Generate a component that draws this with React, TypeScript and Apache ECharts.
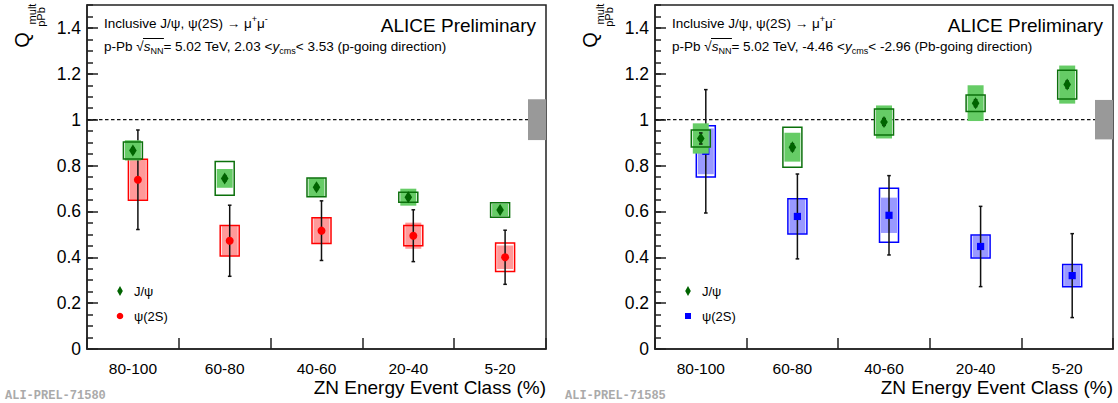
import React, { useEffect, useRef } from 'react';
import * as echarts from 'echarts';

// ---------- data ----------
const categories = ['80-100', '60-80', '40-60', '20-40', '5-20'];

// p-going direction (2.03 < y_cms < 3.53)
const jpsiFwd = [0.866, 0.744, 0.705, 0.662, 0.606];
const jpsiFwdStat = [0.01, 0.012, 0.01, 0.008, 0.008];
const jpsiFwdSysUncorr = [0.037, 0.074, 0.041, 0.022, 0.032];
const jpsiFwdSysCorr = [0.044, 0.041, 0.04, 0.037, 0.028];

const psi2sFwd = [0.738, 0.472, 0.516, 0.494, 0.4];
const psi2sFwdStat = [0.217, 0.155, 0.13, 0.113, 0.118];
const psi2sFwdSysUncorr = [0.089, 0.066, 0.056, 0.044, 0.062];
const psi2sFwdSysCorr = [0.087, 0.064, 0.058, 0.057, 0.051];

// Pb-going direction (-4.46 < y_cms < -2.96)
const jpsiBwd = [0.918, 0.88, 0.99, 1.072, 1.153];
const jpsiBwdStat = [0.024, 0.015, 0.015, 0.015, 0.015];
const jpsiBwdSysUncorr = [0.037, 0.087, 0.057, 0.036, 0.063];
const jpsiBwdSysCorr = [0.066, 0.063, 0.072, 0.078, 0.083];

const psi2sBwd = [0.862, 0.578, 0.583, 0.447, 0.32];
const psi2sBwdStat = [0.269, 0.185, 0.173, 0.175, 0.183];
const psi2sBwdSysUncorr = [0.112, 0.077, 0.118, 0.05, 0.049];
const psi2sBwdSysCorr = [0.1, 0.075, 0.077, 0.047, 0.045];

// global (correlated) uncertainty around unity, per panel
const globalSyst = [0.089, 0.086];
const unity = 1;

const yMin = 0;
const yMax = 1.5;
const yMajor = 0.2;
const yMinor = 0.05;

// ---------- style ----------
const FONT = '"Liberation Sans", Arial, Helvetica, sans-serif';
const FRAME = '#222';
const HFS = 13.5; // header font size
const SUBFS = 9;

const GRIDS = [
  { left: 87, top: 5, width: 459, height: 344 },
  { left: 655, top: 5, width: 458, height: 344 },
];

function toData(v: number[], st: number[], un: number[], co: number[]) {
  return v.map((y, i) => [i, y, st[i], un[i], co[i]]);
}

function makeRender(kind: string, fill: string, stroke: string, markerColor: string, dx: number) {
  return (params: any, api: any) => {
    const i = api.value(0);
    const v = api.value(1);
    const st = api.value(2);
    const un = api.value(3);
    const co = api.value(4);
    const c = api.coord([i, v]);
    const x = c[0] + dx;
    const y = c[1];
    const yc1 = api.coord([i, v + co])[1];
    const yc2 = api.coord([i, v - co])[1];
    const yu1 = api.coord([i, v + un])[1];
    const yu2 = api.coord([i, v - un])[1];
    const ys1 = api.coord([i, v + st])[1];
    const ys2 = api.coord([i, v - st])[1];
    let marker: any;
    if (kind === 'diamond') {
      marker = {
        type: 'polygon',
        shape: { points: [[x, y - 6], [x + 3.8, y], [x, y + 6], [x - 3.8, y]] },
        style: { fill: markerColor },
      };
    } else if (kind === 'circle') {
      marker = { type: 'circle', shape: { cx: x, cy: y, r: 4 }, style: { fill: markerColor } };
    } else {
      marker = { type: 'rect', shape: { x: x - 3.6, y: y - 3.6, width: 7.2, height: 7.2 }, style: { fill: markerColor } };
    }
    return {
      type: 'group',
      children: [
        { type: 'rect', shape: { x: x - 8, y: yc1, width: 16, height: yc2 - yc1 }, style: { fill } },
        { type: 'rect', shape: { x: x - 9.5, y: yu1, width: 19, height: yu2 - yu1 }, style: { fill: 'none', stroke, lineWidth: 1.5 } },
        { type: 'line', shape: { x1: x, y1: ys1, x2: x, y2: ys2 }, style: { stroke: '#111', lineWidth: 1.5 } },
        { type: 'line', shape: { x1: x - 1.8, y1: ys1, x2: x + 1.8, y2: ys1 }, style: { stroke: '#111', lineWidth: 1.5 } },
        { type: 'line', shape: { x1: x - 1.8, y1: ys2, x2: x + 1.8, y2: ys2 }, style: { stroke: '#111', lineWidth: 1.5 } },
        marker,
      ],
    };
  };
}

function unityLineRender(params: any, api: any) {
  const cs = params.coordSys;
  const y = api.coord([0, api.value(1)])[1];
  return {
    type: 'line',
    shape: { x1: cs.x, y1: y, x2: cs.x + cs.width, y2: y },
    style: { stroke: '#111', lineWidth: 1.3, lineDash: [3.5, 2.5] },
  };
}

function globalBoxRender(params: any, api: any) {
  const cs = params.coordSys;
  const g = api.value(2);
  const c = api.value(1);
  const y1 = api.coord([0, c + g])[1];
  const y2 = api.coord([0, c - g])[1];
  return {
    type: 'rect',
    shape: { x: cs.x + cs.width - 18, y: y1, width: 18, height: y2 - y1 },
    style: { fill: '#999999' },
  };
}

function xAxisFor(gridIndex: number) {
  return {
    type: 'category',
    gridIndex,
    data: categories,
    boundaryGap: true,
    axisLine: { show: true, lineStyle: { color: FRAME, width: 1.5 } },
    axisTick: { show: true, inside: true, length: 11, interval: 0, lineStyle: { color: FRAME, width: 1.5 } },
    axisLabel: { show: true, interval: 0, color: '#000', fontFamily: FONT, fontSize: 15.5, margin: 11 },
    splitLine: { show: false },
  };
}

function yAxesFor(gridIndex: number) {
  return [
    {
      type: 'value',
      gridIndex,
      position: 'left',
      min: yMin,
      max: yMax,
      interval: yMajor,
      axisLine: { show: true, lineStyle: { color: FRAME, width: 1.5 } },
      axisTick: { show: true, inside: true, length: 11, lineStyle: { color: FRAME, width: 1.5 } },
      axisLabel: { show: true, color: '#000', fontFamily: FONT, fontSize: 17.5, margin: 6, showMaxLabel: false },
      splitLine: { show: false },
    },
    {
      type: 'value',
      gridIndex,
      position: 'left',
      min: yMin,
      max: yMax,
      interval: yMinor,
      axisLine: { show: false },
      axisTick: { show: true, inside: true, length: 6, lineStyle: { color: FRAME, width: 1.5 } },
      axisLabel: { show: false },
      splitLine: { show: false },
    },
  ];
}

function panelSeries(p: number, jv: number[], js: number[], ju: number[], jc: number[],
  pv: number[], ps: number[], pu: number[], pc: number[], psiFill: string, psiStroke: string, psiMarker: string, psiKind: string) {
  const xi = p;
  const yi = p * 2;
  return [
    {
      type: 'custom', xAxisIndex: xi, yAxisIndex: yi, silent: true, z: 1,
      data: [[0, unity]], renderItem: unityLineRender,
    },
    {
      type: 'custom', xAxisIndex: xi, yAxisIndex: yi, silent: true, z: 2,
      data: [[0, unity, globalSyst[p]]], renderItem: globalBoxRender,
    },
    {
      type: 'custom', name: 'ψ(2S)', xAxisIndex: xi, yAxisIndex: yi, silent: true, z: 3,
      data: toData(pv, ps, pu, pc), renderItem: makeRender(psiKind, psiFill, psiStroke, psiMarker, 5),
    },
    {
      type: 'custom', name: 'J/ψ', xAxisIndex: xi, yAxisIndex: yi, silent: true, z: 4,
      data: toData(jv, js, ju, jc), renderItem: makeRender('diamond', '#66cc66', '#0b700b', '#006400', 0),
    },
  ];
}

const panelTexts = [
  { range: '2.03 <', range2: '< 3.53 (p-going direction)', tag: 'ALI-PREL-71580', psiMarker: 'circle', psiColor: '#ff0000' },
  { range: '-4.46 <', range2: '< -2.96 (Pb-going direction)', tag: 'ALI-PREL-71585', psiMarker: 'square', psiColor: '#0000ff' },
];

function panelGraphics(p: number) {
  const g = GRIDS[p];
  const gx = g.left;
  const gr = g.left + g.width;
  const t = panelTexts[p];
  const els: any[] = [];
  const tx = gx + 17;
  // header line 1
  els.push({
    type: 'text', x: tx, y: 23,
    style: {
      text: '{t|Inclusive J/ψ, ψ(2S) → μ}{sup|+}{t|μ}{sup|-}',
      verticalAlign: 'middle', align: 'left',
      rich: {
        t: { fontFamily: FONT, fontSize: HFS, fill: '#000', lineHeight: 18, verticalAlign: 'middle' },
        sup: { fontFamily: FONT, fontSize: SUBFS, fill: '#000', lineHeight: 9, verticalAlign: 'top' },
      },
    },
  });
  // ALICE Preliminary
  els.push({
    type: 'text', x: gr - 10, y: 25,
    style: { text: 'ALICE Preliminary', fontFamily: FONT, fontSize: 19, fill: '#000', align: 'right', verticalAlign: 'middle' },
  });
  // header line 2
  els.push({
    type: 'text', x: tx, y: 46,
    style: {
      text: '{t|p-Pb √}{i|s}{sub|NN}{t|= 5.02 TeV, ' + t.range + '}{i|y}{sub|cms}{t|' + t.range2 + '}',
      verticalAlign: 'middle', align: 'left',
      rich: {
        t: { fontFamily: FONT, fontSize: HFS, fill: '#000', lineHeight: 19, verticalAlign: 'middle' },
        i: { fontFamily: FONT, fontSize: HFS, fontStyle: 'italic', fill: '#000', lineHeight: 19, verticalAlign: 'middle' },
        sub: { fontFamily: FONT, fontSize: SUBFS, fill: '#000', lineHeight: 9, verticalAlign: 'bottom' },
      },
    },
  });
  // sqrt overline
  const ox1 = tx + HFS * (2.39 + 0.5);
  const ox2 = tx + HFS * (2.39 + 0.549 + 0.5) + SUBFS * 1.444 + 0.5;
  els.push({
    type: 'line', shape: { x1: ox1, y1: 38.5, x2: ox2, y2: 38.5 },
    style: { stroke: '#000', lineWidth: 1 },
  });
  // legend
  const lx = gx + 33;
  els.push({ type: 'polygon', shape: { points: [[lx, 286], [lx + 2.8, 291], [lx, 296], [lx - 2.8, 291]] }, style: { fill: '#006400' } });
  els.push({ type: 'text', x: gx + 47, y: 291, style: { text: 'J/ψ', fontFamily: FONT, fontSize: 13, fill: '#000', verticalAlign: 'middle' } });
  if (t.psiMarker === 'circle') {
    els.push({ type: 'circle', shape: { cx: lx, cy: 316, r: 3.3 }, style: { fill: t.psiColor } });
  } else {
    els.push({ type: 'rect', shape: { x: lx - 3, y: 313, width: 6, height: 6 }, style: { fill: t.psiColor } });
  }
  els.push({ type: 'text', x: gx + 47, y: 316, style: { text: 'ψ(2S)', fontFamily: FONT, fontSize: 13, fill: '#000', verticalAlign: 'middle' } });
  // x axis title
  els.push({
    type: 'text', x: gr, y: 387,
    style: { text: 'ZN Energy Event Class (%)', fontFamily: FONT, fontSize: 19, fill: '#000', align: 'right', verticalAlign: 'middle' },
  });
  // y axis title (rotated)
  els.push({
    type: 'text', x: gx - 65, y: 40, rotation: Math.PI / 2,
    style: { text: 'Q', fontFamily: FONT, fontSize: 20, fill: '#000', align: 'center', verticalAlign: 'middle' },
  });
  els.push({
    type: 'text', x: gx - 55, y: 14, rotation: Math.PI / 2,
    style: { text: 'mult', fontFamily: FONT, fontSize: 11, fill: '#000', align: 'center', verticalAlign: 'middle' },
  });
  els.push({
    type: 'text', x: gx - 46, y: 17, rotation: Math.PI / 2,
    style: { text: 'pPb', fontFamily: FONT, fontSize: 11, fill: '#000', align: 'center', verticalAlign: 'middle' },
  });
  // preliminary tag
  els.push({
    type: 'text', x: p === 0 ? 5 : 565, y: 396,
    style: { text: t.tag, fontFamily: '"Liberation Mono", "DejaVu Sans Mono", monospace', fontWeight: 'bold', fontSize: 12, fill: '#aaaaaa', verticalAlign: 'middle' },
  });
  return els;
}

const option: any = {
  animation: false,
  backgroundColor: '#ffffff',
  grid: GRIDS.map((g) => ({ ...g, show: true, borderColor: FRAME, borderWidth: 1.5, backgroundColor: 'transparent', containLabel: false })),
  xAxis: [xAxisFor(0), xAxisFor(1)],
  yAxis: [...yAxesFor(0), ...yAxesFor(1)],
  series: [
    ...panelSeries(0, jpsiFwd, jpsiFwdStat, jpsiFwdSysUncorr, jpsiFwdSysCorr,
      psi2sFwd, psi2sFwdStat, psi2sFwdSysUncorr, psi2sFwdSysCorr, '#ff9999', '#ff0000', '#ff0000', 'circle'),
    ...panelSeries(1, jpsiBwd, jpsiBwdStat, jpsiBwdSysUncorr, jpsiBwdSysCorr,
      psi2sBwd, psi2sBwdStat, psi2sBwdSysUncorr, psi2sBwdSysCorr, '#9999ff', '#0000ff', '#0000ff', 'square'),
  ],
  graphic: [...panelGraphics(0), ...panelGraphics(1)],
};

export default function App() {
  const ref = useRef<HTMLDivElement>(null);
  useEffect(() => {
    const chart = echarts.init(ref.current as HTMLDivElement, null, { renderer: 'svg' });
    chart.setOption(option);
    return () => chart.dispose();
  }, []);
  return (
    <div
      ref={ref}
      style={{ position: 'fixed', left: 0, top: 0, width: 1118, height: 403, background: '#fff' }}
    />
  );
}
